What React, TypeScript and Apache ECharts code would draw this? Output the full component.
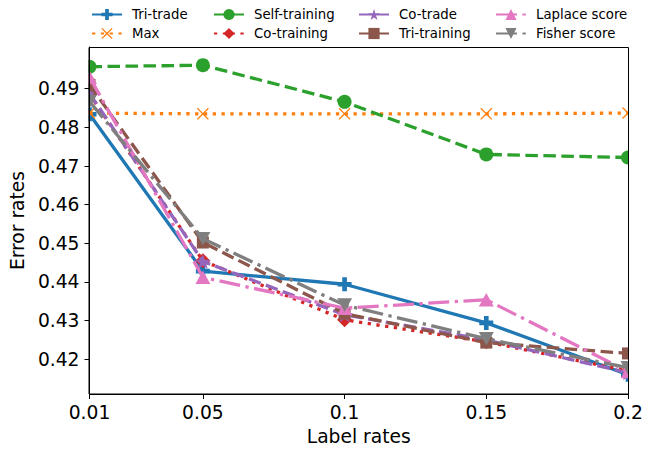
import React, { useEffect, useRef } from "react";
import * as echarts from "echarts";

const labelRates = [0.01, 0.05, 0.1, 0.15, 0.2];
const xTicks = [0.01, 0.05, 0.1, 0.15, 0.2];
const yTicks = [0.42, 0.43, 0.44, 0.45, 0.46, 0.47, 0.48, 0.49];

const seriesNames = [
  "Tri-trade",
  "Max",
  "Self-training",
  "Co-training",
  "Co-trade",
  "Tri-training",
  "Laplace score",
  "Fisher score",
];
const triTrade = [0.4834, 0.4428, 0.4394, 0.4294, 0.416];
const maxRate = [0.4837, 0.4835, 0.4835, 0.4835, 0.4837];
const selfTraining = [0.4957, 0.4961, 0.4866, 0.473, 0.4722];
const coTraining = [0.4886, 0.4455, 0.4302, 0.4245, 0.417];
const coTrade = [0.4888, 0.4453, 0.4315, 0.425, 0.4165];
const triTraining = [0.491, 0.4502, 0.4318, 0.4243, 0.4215];
const laplaceScore = [0.493, 0.4412, 0.4332, 0.4354, 0.4168];
const fisherScore = [0.4867, 0.4512, 0.434, 0.4253, 0.4178];

const seriesValues = [
  triTrade,
  maxRate,
  selfTraining,
  coTraining,
  coTrade,
  triTraining,
  laplaceScore,
  fisherScore,
];

const colors = [
  "#1f77b4",
  "#ff7f0e",
  "#2ca02c",
  "#d62728",
  "#9467bd",
  "#8c564b",
  "#e377c2",
  "#7f7f7f",
];

const LW = 3.3;
const dashed = [12.5, 5.5];
const dotted = [3.3, 5.5];
const dashDot = [21, 5.5, 3.3, 5.5];
const lineTypes: any[] = ["solid", dotted, dashed, dotted, dashed, dashed, dashDot, dashDot];

const plusPath = "path://M2,0H4V2H6V4H4V6H2V4H0V2H2Z";
const xPath =
  "path://M0,0.8L0.8,0L5,4.2L9.2,0L10,0.8L5.8,5L10,9.2L9.2,10L5,5.8L0.8,10L0,9.2L4.2,5Z";
const starPath =
  "path://M0,-1L0.2245,-0.309L0.9511,-0.309L0.3633,0.118L0.5878,0.809L0,0.382L-0.5878,0.809L-0.3633,0.118L-0.9511,-0.309L-0.2245,-0.309Z";
const diamondPath = "path://M5,0L10,5L5,10L0,5Z";
const triDownPath = "path://M0,0L10,0L5,9Z";
const triUpPath = "path://M5,0L10,9L0,9Z";

const symbols = [plusPath, xPath, "circle", diamondPath, starPath, "rect", triUpPath, triDownPath];
const symbolSizes: any[] = [14, 12, 14, 15, [16, 15], 12, [15, 13.5], [15, 13.5]];

const FONT = "DejaVu Sans";

export default function App() {
  const ref = useRef<HTMLDivElement>(null);
  useEffect(() => {
    if (!ref.current) return;
    const chart = echarts.init(ref.current, null, { renderer: "svg" });
    const series = seriesNames.map((name, i) => ({
      name,
      type: "line",
      data: labelRates.map((x, j) => [x, seriesValues[i][j]]),
      symbol: symbols[i],
      symbolSize: symbolSizes[i],
      showSymbol: true,
      clip: true,
      color: colors[i],
      itemStyle: { color: colors[i], borderWidth: 0 },
      lineStyle: { color: colors[i], width: LW, type: lineTypes[i] },
      z: 2 + i * 0.01,
    }));
    const legendGroups = [
      [seriesNames[0], seriesNames[1]],
      [seriesNames[2], seriesNames[3]],
      [seriesNames[4], seriesNames[5]],
      [seriesNames[6], seriesNames[7]],
    ];
    const legendLefts = [91, 213, 358, 495];
    chart.setOption({
      animation: false,
      backgroundColor: "#ffffff",
      textStyle: { fontFamily: FONT },
      legend: legendGroups.map((g, k) => ({
        data: g,
        orient: "vertical",
        left: legendLefts[k],
        top: 8,
        itemWidth: 30,
        itemHeight: 14,
        itemGap: 6,
        padding: 0,
        textStyle: { fontFamily: FONT, fontSize: 13.3, color: "#000", padding: [0, 0, 0, 5] },
      })),
      graphic: [
        { type: "rect", z: 5, silent: true, shape: { x: 0, y: 46, width: 88.5, height: 348 }, style: { fill: "#fff" } },
        { type: "rect", z: 5, silent: true, shape: { x: 629, y: 46, width: 26, height: 348 }, style: { fill: "#fff" } },
        {
          type: "rect",
          z: 6,
          silent: true,
          shape: { x: 89, y: 47.5, width: 539.5, height: 346.5 },
          style: { fill: "none", stroke: "#000", lineWidth: 1 },
        },
      ],
      grid: {
        left: 89,
        right: 26,
        top: 47,
        bottom: 60,
      },
      xAxis: {
        type: "value",
        z: 10,
        min: 0.01,
        max: 0.2,
        name: "Label rates",
        nameLocation: "middle",
        nameGap: 33,
        nameTextStyle: { fontFamily: FONT, fontSize: 18.7, color: "#000" },
        splitLine: { show: false },
        axisLine: { show: true, lineStyle: { color: "#000", width: 1 } },
        axisTick: { show: true, length: 5, lineStyle: { color: "#000" }, customValues: xTicks },
        axisLabel: {
          customValues: xTicks,
          fontFamily: FONT,
          fontSize: 18.7,
          color: "#000",
          margin: 9,
          formatter: (v: number) => String(v),
        },
      },
      yAxis: {
        type: "value",
        z: 10,
        min: 0.411,
        max: 0.5008,
        name: "Error rates",
        nameLocation: "middle",
        nameGap: 55,
        nameTextStyle: { fontFamily: FONT, fontSize: 18.7, color: "#000" },
        splitLine: { show: false },
        axisLine: { show: true, lineStyle: { color: "#000", width: 1 } },
        axisTick: { show: true, length: 5, lineStyle: { color: "#000" }, customValues: yTicks },
        axisLabel: {
          customValues: yTicks,
          fontFamily: FONT,
          fontSize: 18.7,
          color: "#000",
          margin: 10,
          formatter: (v: number) => v.toFixed(2),
        },
      },
      series,
    });
    return () => chart.dispose();
  }, []);
  return <div ref={ref} style={{ width: 654, height: 454, position: "absolute", left: 0, top: 0 }} />;
}
